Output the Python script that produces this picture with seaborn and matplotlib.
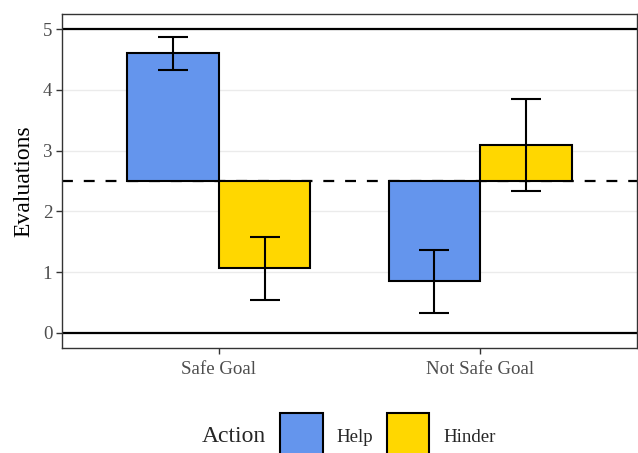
import matplotlib
matplotlib.use("Agg")
import matplotlib.pyplot as plt
from matplotlib.patches import Patch, Rectangle
from matplotlib.legend_handler import HandlerPatch
import numpy as np
import pandas as pd
import seaborn as sns

# Mean evaluations and interval bounds per goal condition and action
goals = ["Safe Goal", "Not Safe Goal"]
actions = ["Help", "Hinder"]
help_means = [4.60, 0.85]
hinder_means = [1.07, 3.09]
help_low = [4.32, 0.32]
help_high = [4.87, 1.37]
hinder_low = [0.54, 2.34]
hinder_high = [1.58, 3.85]
yticks = [0, 1, 2, 3, 4, 5]
midpoint = 2.5
colors = {"Help": "#6495ED", "Hinder": "#FFD700"}

df = pd.DataFrame({
    "Goal": goals * 2,
    "Action": ["Help"] * 2 + ["Hinder"] * 2,
    "Evaluations": help_means + hinder_means,
    "low": help_low + hinder_low,
    "high": help_high + hinder_high,
})

sns.set_theme(style="white")
plt.rcParams["font.family"] = ["Liberation Serif", "DejaVu Serif"]

fig = plt.figure(figsize=(6.38, 4.53), dpi=100)
ax = fig.add_axes([62 / 638, 1 - 348 / 453, 575 / 638, 334 / 453])

# reference lines: scale ends and the neutral midpoint
for yv in yticks:
    ax.axhline(yv, color="#EBEBEB", lw=1.0, zorder=0)
ax.axhline(0, color="black", lw=1.6, zorder=1)
ax.axhline(5, color="black", lw=1.6, zorder=1)
ax.axhline(midpoint, color="black", lw=1.6, ls=(0, (4.9, 4.9)), zorder=1)

sns.barplot(data=df, x="Goal", y="Evaluations", hue="Action",
            order=goals, hue_order=actions, palette=colors, saturation=1,
            errorbar=None, width=0.7, edgecolor="black", linewidth=1.5,
            legend=False, ax=ax, zorder=2)

# bars grow from the midpoint rather than from zero
for container, action in zip(ax.containers, actions):
    sub = df[df["Action"] == action].set_index("Goal").loc[goals]
    xs, ys, lo, hi = [], [], [], []
    for bar, (g, row) in zip(container.patches, sub.iterrows()):
        bar.set_y(midpoint)
        bar.set_height(row["Evaluations"] - midpoint)
        xs.append(bar.get_x() + bar.get_width() / 2)
        ys.append(row["Evaluations"])
        lo.append(row["Evaluations"] - row["low"])
        hi.append(row["high"] - row["Evaluations"])
    ax.errorbar(xs, ys, yerr=[lo, hi], fmt="none", ecolor="black",
                elinewidth=1.5, capsize=11, capthick=1.5, zorder=4)

ax.set_xlim(-0.6, 1.6)
ax.set_ylim(-0.25, 5.25)
ax.set_yticks(yticks)
ax.set_xlabel("")
ax.set_ylabel("Evaluations", fontsize=17, color="black", labelpad=6)
ax.tick_params(axis="both", which="major", labelsize=13.6, labelcolor="#4D4D4D",
               color="#333333", length=4, width=1.0, left=True, bottom=True, pad=3)
ax.tick_params(axis="x", pad=5)
for sp in ax.spines.values():
    sp.set_color("#333333")
    sp.set_linewidth(1.0)
    sp.set_visible(True)


def make_key(legend, orig_handle, xdescent, ydescent, width, height, fontsize):
    h = 2.35 * fontsize
    return Rectangle((-xdescent, 0.33 * fontsize - h / 2), width, h)


handles = [Patch(facecolor=colors[a], edgecolor="black", linewidth=1.5) for a in actions]
fig.text(202 / 638, 1 - 437 / 453, "Action", fontsize=17, va="center", ha="left")
leg = fig.legend(handles, actions, loc="center left",
                 bbox_to_anchor=(280 / 638, 1 - 437 / 453), ncol=2, frameon=False,
                 fontsize=13.6, handlelength=2.25, handleheight=0.7,
                 handletextpad=0.75, columnspacing=0.7, borderpad=0, borderaxespad=0,
                 handler_map={Patch: HandlerPatch(patch_func=make_key)})

fig.savefig("out.png", dpi=100)
